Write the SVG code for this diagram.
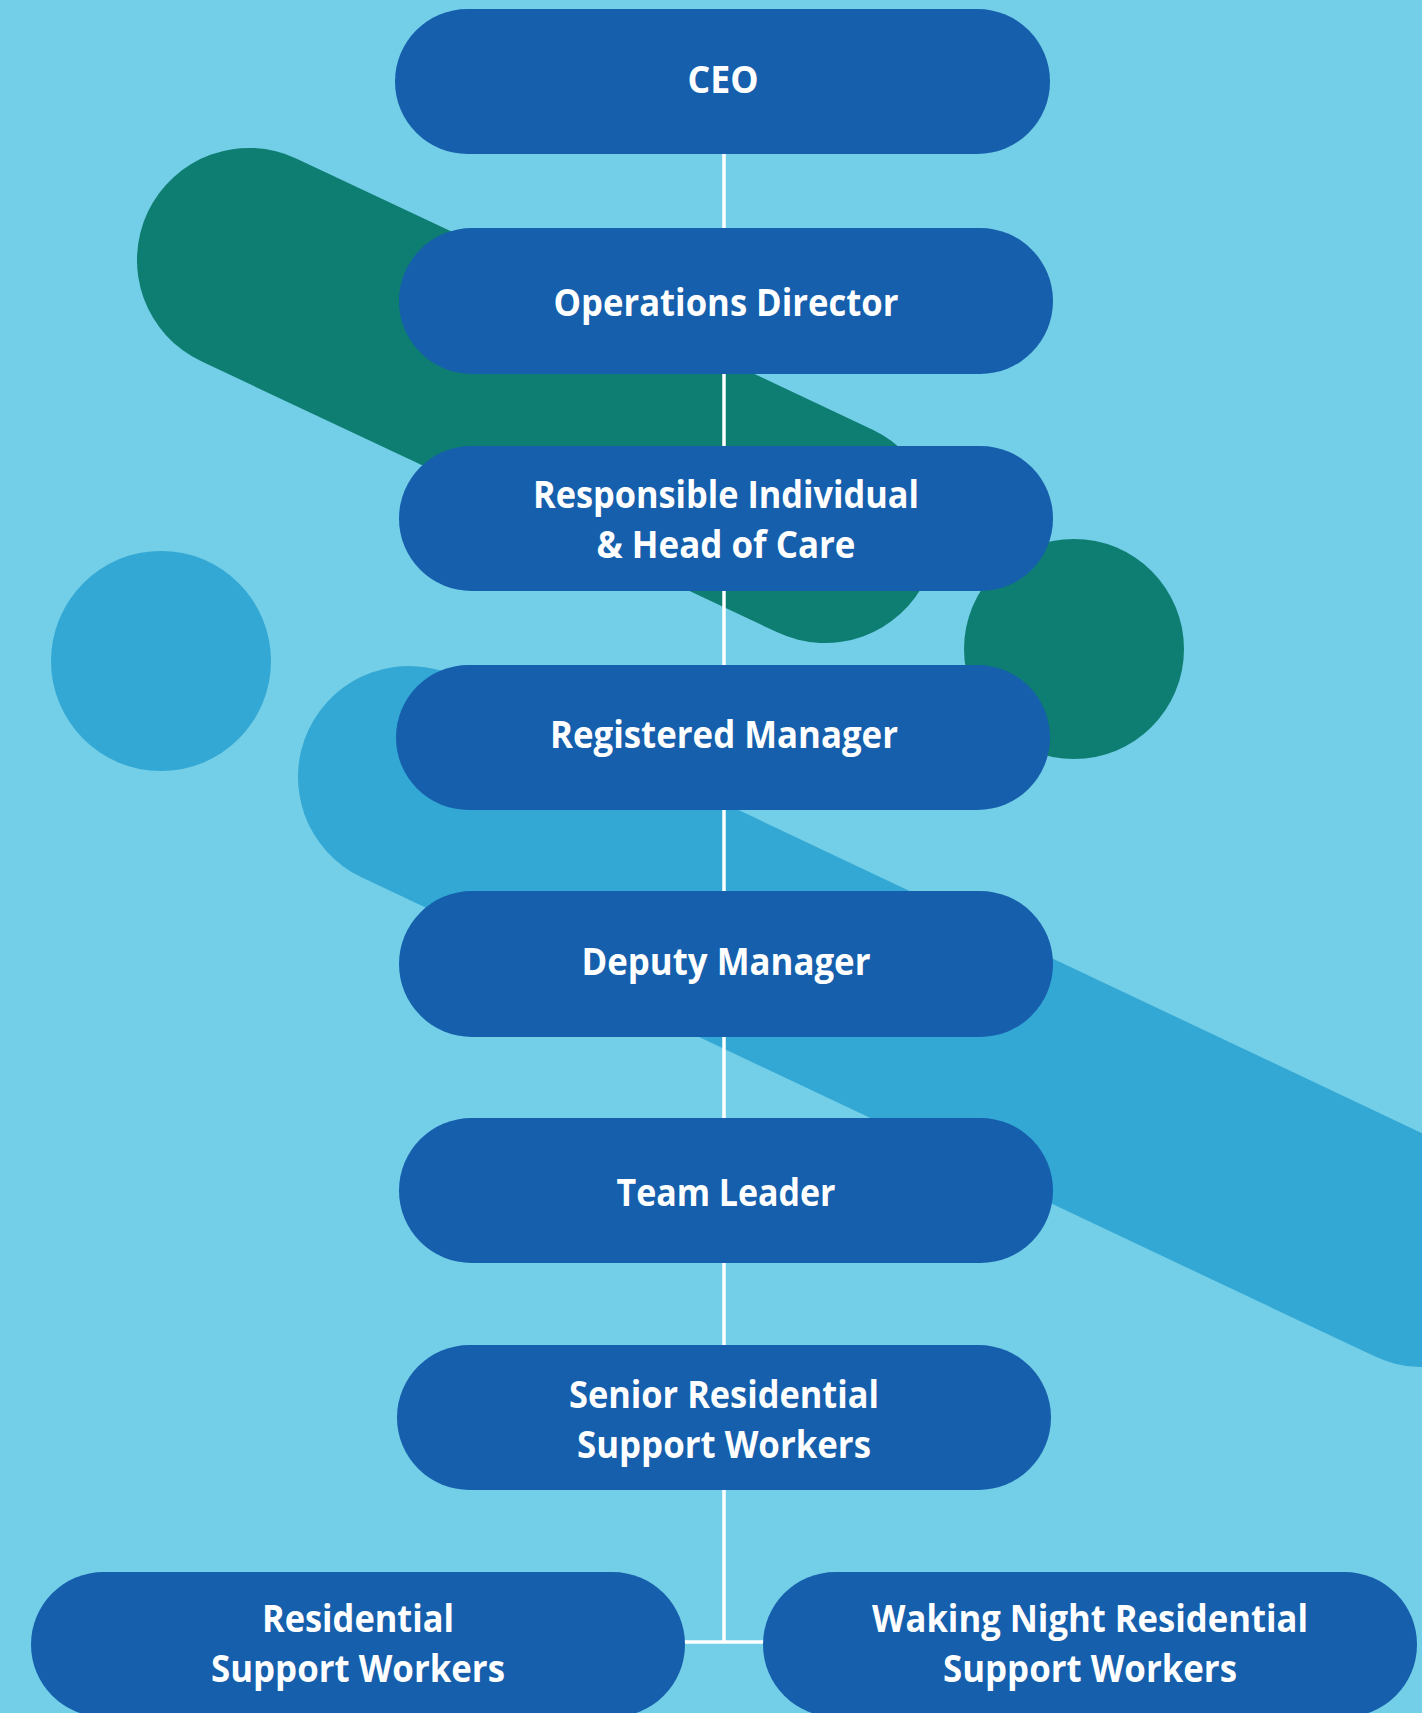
<svg xmlns="http://www.w3.org/2000/svg" width="1422" height="1713" viewBox="0 0 1422 1713">
<style>
.bg{fill:#73CEE7}
.node rect{fill:#155FAD}
.node text{fill:#FFFFFF;font-family:"Open Sans","Noto Sans","DejaVu Sans",sans-serif;font-weight:700;font-size:38px;text-anchor:middle}
.conn{stroke:#FFFFFF;stroke-width:3.5;fill:none}
</style>
<rect class="bg" x="0" y="0" width="1422" height="1713"/>
<g id="background">
<line x1="249" y1="260" x2="825" y2="531" stroke="#0F7E72" stroke-width="224" stroke-linecap="round"/>
<circle cx="1074" cy="649" r="110" fill="#0F7E72"/>
<circle cx="161" cy="661" r="110" fill="#33A8D4"/>
<line x1="409" y1="777" x2="1422" y2="1256" stroke="#33A8D4" stroke-width="222" stroke-linecap="round"/>
</g>
<g id="connectors">
<path class="conn" d="M724 154 V1642"/>
<path class="conn" d="M684 1642 H765"/>
</g>
<g id="ceo" class="node"><rect x="395" y="9" width="655" height="145" rx="72.5"/><text x="723" y="93" textLength="71" lengthAdjust="spacingAndGlyphs">CEO</text></g>
<g id="operations-director" class="node"><rect x="399" y="228" width="654" height="146" rx="73"/><text x="726" y="316" textLength="345" lengthAdjust="spacingAndGlyphs">Operations Director</text></g>
<g id="responsible-individual" class="node"><rect x="399" y="446" width="654" height="145" rx="72.5"/><text x="726" y="508" textLength="386" lengthAdjust="spacingAndGlyphs">Responsible Individual</text><text x="726" y="558" textLength="259" lengthAdjust="spacingAndGlyphs">&amp; Head of Care</text></g>
<g id="registered-manager" class="node"><rect x="396" y="665" width="654" height="145" rx="72.5"/><text x="724" y="748" textLength="348" lengthAdjust="spacingAndGlyphs">Registered Manager</text></g>
<g id="deputy-manager" class="node"><rect x="399" y="891" width="654" height="146" rx="73"/><text x="726" y="975" textLength="289" lengthAdjust="spacingAndGlyphs">Deputy Manager</text></g>
<g id="team-leader" class="node"><rect x="399" y="1118" width="654" height="145" rx="72.5"/><text x="726" y="1206" textLength="219" lengthAdjust="spacingAndGlyphs">Team Leader</text></g>
<g id="senior-residential" class="node"><rect x="397" y="1345" width="654" height="145" rx="72.5"/><text x="724" y="1408" textLength="310" lengthAdjust="spacingAndGlyphs">Senior Residential</text><text x="724" y="1458" textLength="294" lengthAdjust="spacingAndGlyphs">Support Workers</text></g>
<g id="residential" class="node"><rect x="31" y="1572" width="654" height="145" rx="72.5"/><text x="358" y="1632" textLength="192" lengthAdjust="spacingAndGlyphs">Residential</text><text x="358" y="1682" textLength="294" lengthAdjust="spacingAndGlyphs">Support Workers</text></g>
<g id="waking-night" class="node"><rect x="763" y="1572" width="654" height="145" rx="72.5"/><text x="1090" y="1632" textLength="436" lengthAdjust="spacingAndGlyphs">Waking Night Residential</text><text x="1090" y="1682" textLength="294" lengthAdjust="spacingAndGlyphs">Support Workers</text></g>
</svg>
